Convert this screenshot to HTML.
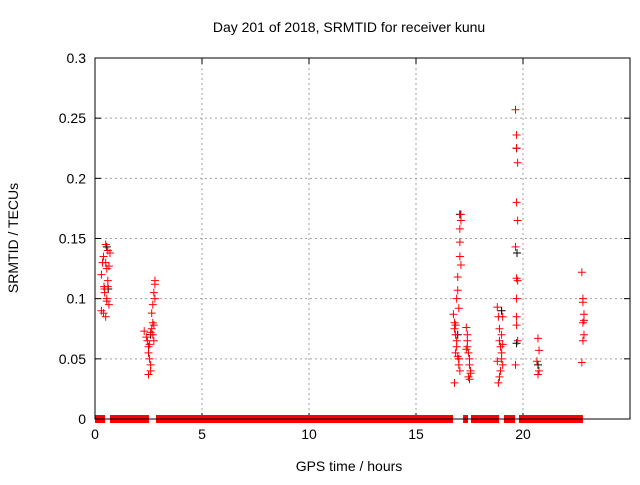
<!DOCTYPE html>
<html><head><meta charset="utf-8"><style>
body{margin:0;background:#fff;}
svg text{font-family:"Liberation Sans",sans-serif;font-size:14px;fill:#000;}
</style></head><body>
<svg id="c" width="640" height="480">
<text x="349" y="32" text-anchor="middle">Day 201 of 2018, SRMTID for receiver kunu</text>
<text x="349" y="471" text-anchor="middle">GPS time / hours</text>
<text transform="translate(18,238) rotate(-90)" text-anchor="middle">SRMTID / TECUs</text>
<g id="grid"></g><g id="ticks"></g><g id="marks"></g>
<rect x="95" y="58" width="535" height="361" fill="none" stroke="#000" stroke-width="1"/>
</svg>
<script>
const xTicks=[0,5,10,15,20];
const yTicks=[0,0.05,0.1,0.15,0.2,0.25,0.3];
const yTickLabels=["0","0.05","0.1","0.15","0.2","0.25","0.3"];
const zeroSegStart=[0,0.70,2.85,17.2,17.57,19.11,19.81];
const zeroSegEnd=[0.47,2.52,16.73,17.43,18.88,19.63,22.8];
const redT=[0.3,0.35,0.4,0.42,0.45,0.5,0.5,0.55,0.55,0.6,0.6,0.65,0.7,0.3,0.4,0.5,0.6,0.65,0.45,0.55,
2.3,2.4,2.45,2.5,2.5,2.55,2.6,2.6,2.65,2.7,2.7,2.75,2.75,2.8,2.8,2.5,2.55,2.6,2.65,2.7,2.75,2.8,
16.75,16.8,16.85,16.9,16.9,16.95,17.0,17.0,17.05,17.05,17.1,17.1,16.8,16.85,16.95,17.0,17.05,17.1,16.9,16.8,16.95,17.05,16.85,17.0,
17.35,17.4,17.4,17.45,17.5,17.5,17.55,17.45,17.4,17.5,17.55,17.35,
18.8,18.85,18.9,18.9,18.95,19.0,19.0,19.05,19.05,18.85,18.95,19.0,18.9,19.05,18.8,
19.65,19.7,19.7,19.75,19.7,19.75,19.65,19.7,19.75,19.7,19.7,19.7,19.75,19.65,
20.7,20.75,20.75,20.7,20.65,
22.75,22.8,22.8,22.85,22.8,22.85,22.8,22.75,22.85];
const redV=[0.12,0.13,0.135,0.11,0.105,0.145,0.13,0.125,0.1,0.14,0.11,0.095,0.138,0.09,0.088,0.085,0.115,0.127,0.108,0.098,
0.073,0.068,0.065,0.06,0.055,0.05,0.045,0.04,0.075,0.08,0.07,0.078,0.065,0.1,0.115,0.037,0.062,0.072,0.088,0.095,0.105,0.112,
0.087,0.08,0.078,0.065,0.06,0.052,0.05,0.045,0.04,0.135,0.128,0.17,0.03,0.07,0.107,0.092,0.158,0.165,0.1,0.075,0.118,0.147,0.055,0.05,
0.076,0.065,0.06,0.055,0.05,0.045,0.04,0.035,0.07,0.033,0.038,0.058,
0.093,0.085,0.075,0.065,0.06,0.055,0.05,0.045,0.085,0.03,0.04,0.07,0.035,0.062,0.048,
0.257,0.236,0.225,0.213,0.18,0.165,0.143,0.117,0.115,0.1,0.085,0.078,0.065,0.045,
0.067,0.057,0.04,0.037,0.048,
0.122,0.1,0.097,0.087,0.08,0.07,0.065,0.047,0.082];
const blackT=[0.55,0.62,2.6,16.95,17.05,19.0,19.7,19.72,19.7,20.7];
const blackV=[0.143,0.108,0.07,0.07,0.17,0.09,0.225,0.138,0.063,0.045];
const X0=95,X1=630,Y0=419,Y1=58;
const xs=t=>X0+t/25*(X1-X0), ys=v=>Y0-v/0.3*(Y0-Y1);
const NS="http://www.w3.org/2000/svg";
function mk(tag,attrs,parent){const e=document.createElementNS(NS,tag);for(const k in attrs)e.setAttribute(k,attrs[k]);document.getElementById(parent).appendChild(e);return e;}
xTicks.forEach((t,i)=>{
 if(t>0){const g=mk('line',{x1:xs(t),x2:xs(t),y1:Y1,y2:Y0,stroke:'#a0a0a0','stroke-dasharray':'2,3'},'grid');
 
 }
 const l=mk('text',{x:xs(t),y:Y0+20,'text-anchor':'middle'},'ticks');l.textContent=t;
 
 
 mk('line',{x1:xs(t),x2:xs(t),y1:Y0,y2:Y0-6,stroke:'#000'},'ticks');
 mk('line',{x1:xs(t),x2:xs(t),y1:Y1,y2:Y1+6,stroke:'#000'},'ticks');
});
yTicks.forEach((v,i)=>{
 if(v>0&&v<0.3){const g=mk('line',{x1:X0,x2:X1,y1:ys(v),y2:ys(v),stroke:'#a0a0a0','stroke-dasharray':'2,3'},'grid');
 
 }
 const l=mk('text',{x:X0-9,y:ys(v)+5,'text-anchor':'end'},'ticks');l.textContent=yTickLabels[i];
 
 
 mk('line',{x1:X0,x2:X0+6,y1:ys(v),y2:ys(v),stroke:'#000'},'ticks');
 mk('line',{x1:X1,x2:X1-6,y1:ys(v),y2:ys(v),stroke:'#000'},'ticks');
});
zeroSegStart.forEach((s,i)=>{
 const r=mk('rect',{x:xs(s),y:Y0-4,width:xs(zeroSegEnd[i])-xs(s),height:8,fill:'#f00'},'marks');
 
 
});
function plus(t,v,c){
 const x=xs(t),y=ys(v);
 const p=mk('path',{d:`M${x-4},${y}H${x+4}M${x},${y-4}V${y+4}`,stroke:c,'stroke-width':1},'marks');
 
 
}
blackT.forEach((t,i)=>plus(t,blackV[i],'#000'));
redT.forEach((t,i)=>plus(t,redV[i],'#f00'));
mk('line',{x1:X0,x2:X1,y1:Y0,y2:Y0,stroke:'#000'},'marks');
</script>
</body></html>
